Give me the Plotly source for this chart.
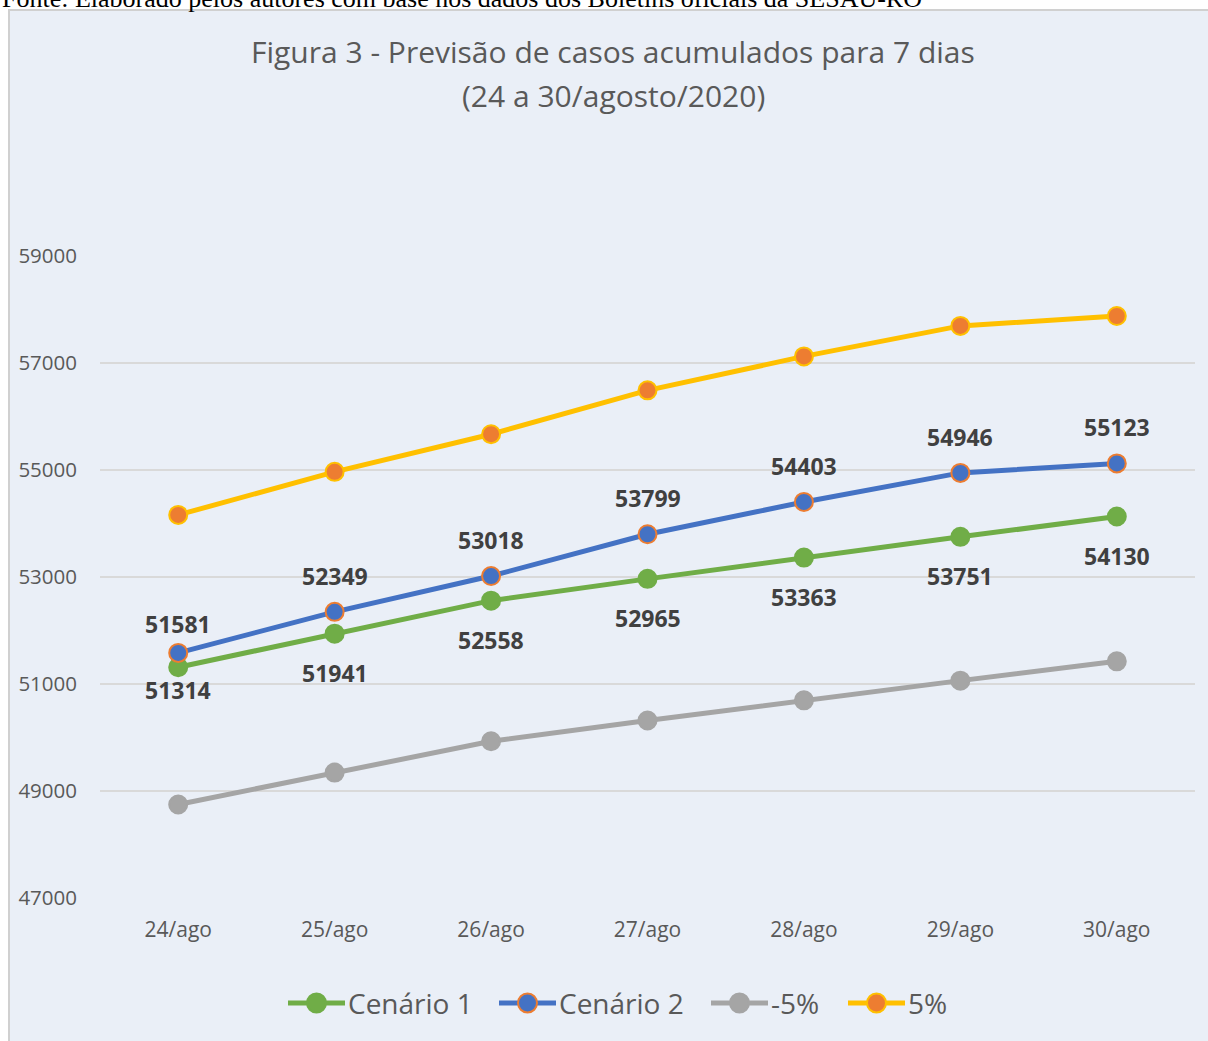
import plotly.graph_objects as go

categories = ["24/ago", "25/ago", "26/ago", "27/ago", "28/ago", "29/ago", "30/ago"]
cenario1 = [51314, 51941, 52558, 52965, 53363, 53751, 54130]
cenario2 = [51581, 52349, 53018, 53799, 54403, 54946, 55123]
menos5 = [48748, 49344, 49930, 50317, 50695, 51063, 51424]
mais5 = [54160, 54966, 55669, 56489, 57123, 57693, 57879]
y_ticks = [47000, 49000, 51000, 53000, 55000, 57000, 59000]
series_names = ["Cenário 1", "Cenário 2", "-5%", "5%"]

W, H = 1208, 1041
L, R, T, B = 100, 13, 256, 143
pw, ph = W - L - R, H - T - B

def px_x(p):
    return (p - L) / pw

def px_y(p):
    return (H - B - p) / ph

FONT = "Open Sans"
LBL = dict(family=FONT, size=23, color="#404040")
STYLES = [
    dict(line="#70AD47", fill="#70AD47", edge="#70AD47"),
    dict(line="#4472C4", fill="#4472C4", edge="#ED7D31"),
    dict(line="#A5A5A5", fill="#A5A5A5", edge="#A5A5A5"),
    dict(line="#FFC000", fill="#ED7D31", edge="#FFC000"),
]
all_series = [cenario1, cenario2, menos5, mais5]

fig = go.Figure()
for name, vals, st in zip(series_names, all_series, STYLES):
    fig.add_trace(go.Scatter(
        x=categories, y=vals, name=name, mode="lines+markers",
        line=dict(color=st["line"], width=5),
        marker=dict(size=18, color=st["fill"], line=dict(color=st["edge"], width=2)),
        cliponaxis=False, showlegend=False,
    ))

annotations = []
# data labels (offsets in px, Excel placed the first labels closer)
shift1 = [-23] + [-39] * 6
shift2 = [29] + [36] * 6
for cat, v, s in zip(categories, cenario1, shift1):
    annotations.append(dict(x=cat, y=v, xref="x", yref="y", text=f"<b>{v}</b>", showarrow=False,
                            yshift=s, xanchor="center", yanchor="middle", font=LBL))
for cat, v, s in zip(categories, cenario2, shift2):
    annotations.append(dict(x=cat, y=v, xref="x", yref="y", text=f"<b>{v}</b>", showarrow=False,
                            yshift=s, xanchor="center", yanchor="middle", font=LBL))

annotations += [
    dict(text="Figura 3 - Previsão de casos acumulados para 7 dias",
         xref="paper", yref="paper", x=px_x(613), y=px_y(52), xanchor="center", yanchor="middle",
         showarrow=False, font=dict(family=FONT, size=30, color="#595959")),
    dict(text="(24 a 30/agosto/2020)",
         xref="paper", yref="paper", x=px_x(613), y=px_y(96), xanchor="center", yanchor="middle",
         showarrow=False, font=dict(family=FONT, size=30, color="#595959")),
    dict(text="Fonte: Elaborado pelos autores com base nos dados dos Boletins oficiais da SESAU-RO",
         xref="paper", yref="paper", x=px_x(0), y=px_y(15), xanchor="left", yanchor="bottom",
         showarrow=False, font=dict(family="Liberation Serif", size=26, color="black")),
]

shapes = [dict(type="rect", xref="paper", yref="paper", layer="below",
               x0=px_x(9), x1=px_x(W + 5), y0=px_y(H + 5), y1=px_y(10),
               fillcolor="#EAEFF7", line=dict(color="#D0D0D0", width=2))]

# custom legend (Excel style: long line with marker centred)
leg_y = 1003
leg_starts = [288, 499, 711, 848]
seg = 57
r = 9.5
for name, st, x0 in zip(series_names, STYLES, leg_starts):
    shapes.append(dict(type="line", xref="paper", yref="paper", layer="above",
                       x0=px_x(x0), x1=px_x(x0 + seg), y0=px_y(leg_y), y1=px_y(leg_y),
                       line=dict(color=st["line"], width=5)))
    cx = x0 + seg / 2
    shapes.append(dict(type="circle", xref="paper", yref="paper", layer="above",
                       x0=px_x(cx - r), x1=px_x(cx + r), y0=px_y(leg_y + r), y1=px_y(leg_y - r),
                       fillcolor=st["fill"], line=dict(color=st["edge"], width=2)))
    annotations.append(dict(text=name, xref="paper", yref="paper", x=px_x(x0 + seg + 1), y=px_y(leg_y),
                            xanchor="left", yanchor="middle", showarrow=False,
                            font=dict(family=FONT, size=28, color="#595959")))

fig.update_layout(
    width=W, height=H,
    margin=dict(l=L, r=R, t=T, b=B, pad=0),
    paper_bgcolor="white",
    plot_bgcolor="rgba(0,0,0,0)",
    font=dict(family=FONT, color="#595959"),
    showlegend=False,
    xaxis=dict(type="category", categoryorder="array", categoryarray=categories,
               range=[-0.5, len(categories) - 0.5], autorange=False,
               showgrid=False, showline=False, zeroline=False, ticks="",
               tickfont=dict(family=FONT, size=21, color="#595959"), ticklabelstandoff=17),
    yaxis=dict(range=[47000, 59000], autorange=False, tickvals=y_ticks,
               ticktext=[str(v) for v in y_ticks],
               showgrid=True, gridcolor="#D9D9D9", gridwidth=1.5, zeroline=False,
               showline=False, ticks="",
               tickfont=dict(family=FONT, size=20.5, color="#595959"), ticklabelstandoff=22),
    shapes=shapes,
    annotations=annotations,
)

fig.write_html("out.html", config={"displayModeBar": False},
               post_script="document.body.style.margin='0';document.body.style.overflow='hidden';")
